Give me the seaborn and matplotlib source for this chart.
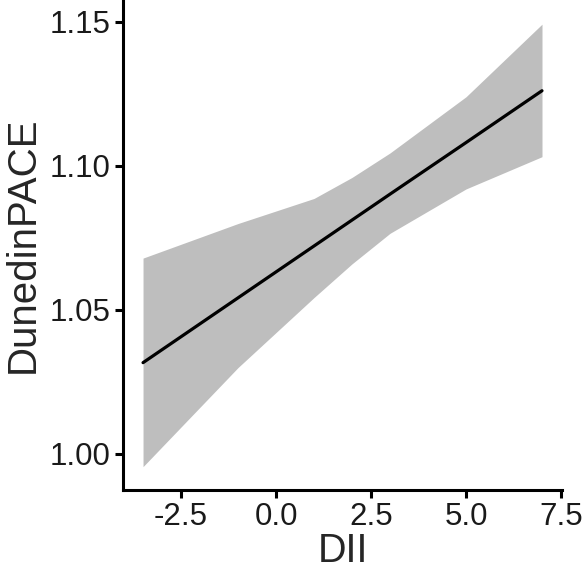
import numpy as np
import pandas as pd
import matplotlib
matplotlib.use("Agg")
import matplotlib.pyplot as plt
import seaborn as sns

# ================= DATA =================
dii = [-3.5, -1.0, 1.0, 2.0, 3.0, 5.0, 7.0]
pace_fit = [1.0317, 1.0542, 1.0722, 1.0812, 1.0902, 1.1081, 1.1261]
pace_upper = [1.068, 1.0800, 1.0887, 1.0960, 1.1045, 1.1240, 1.1492]
pace_lower = [0.9956, 1.0300, 1.0543, 1.0660, 1.0766, 1.0920, 1.1032]

x_ticks = [-2.5, 0.0, 2.5, 5.0, 7.5]
y_ticks = [1.00, 1.05, 1.10, 1.15]

df = pd.DataFrame({"DII": dii, "fit": pace_fit, "upper": pace_upper, "lower": pace_lower})

# ================= STYLE =================
sns.set_theme(style="ticks")
plt.rcParams["font.family"] = ["Liberation Sans", "DejaVu Sans"]

fig = plt.figure(figsize=(5.82, 5.73), dpi=100)
ax = fig.add_axes([0.2113, 0.1449, 0.7545, 0.8551])

# ================= PLOT =================
ax.fill_between(df["DII"], df["lower"], df["upper"], color="#BEBEBE", linewidth=0, zorder=1)
sns.lineplot(data=df, x="DII", y="fit", color="black", linewidth=2.3, ax=ax, zorder=2)

ax.set_xlim(-4.028, 7.529)
ax.set_ylim(0.9875, 1.1576)
ax.set_xticks(x_ticks)
ax.set_xticklabels([f"{t:.1f}" for t in x_ticks])
ax.set_yticks(y_ticks)
ax.set_yticklabels([f"{t:.2f}" for t in y_ticks])

ax.tick_params(axis="both", labelsize=22.5, width=2.2, length=6, color="black",
               labelcolor="#1a1a1a", pad=3)
for side in ["left", "bottom"]:
    ax.spines[side].set_linewidth(2.2)
    ax.spines[side].set_color("black")
sns.despine(ax=ax)

ax.set_xlabel("DII", fontsize=28.5, labelpad=0)
ax.set_ylabel("DunedinPACE", fontsize=29, labelpad=6)

fig.savefig("out.png", dpi=100)
